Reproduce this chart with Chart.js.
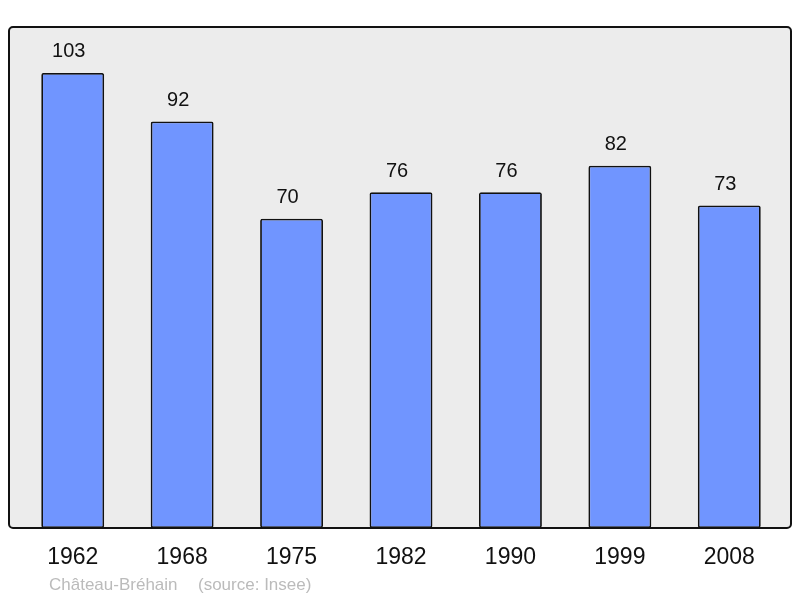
<!DOCTYPE html>
<html>
<head>
<meta charset="utf-8">
<script src="https://cdn.jsdelivr.net/npm/chart.js@4/dist/chart.umd.min.js"></script>
<style>
  html, body { margin: 0; padding: 0; background: #fff; }
  #wrap { width: 800px; height: 598px; position: relative; }
</style>
</head>
<body>
<div id="wrap"><canvas id="popChart"></canvas></div>
<script>
const years = ['1962', '1968', '1975', '1982', '1990', '1999', '2008'];
const population = [103, 92, 70, 76, 76, 82, 73];
const commune = 'Château-Bréhain';
const sourceText = '(source: Insee)';

// grey rounded box behind the bars, slightly wider than the category area
const frameBox = {
    id: 'frameBox',
    beforeDatasetsDraw(chart) {
        const { ctx, chartArea: a } = chart;
        const x0 = a.left - 9, x1 = a.right + 7;
        const y0 = a.top, y1 = a.bottom;
        ctx.save();
        ctx.beginPath();
        ctx.roundRect(x0, y0, x1 - x0, y1 - y0, 4);
        ctx.fillStyle = '#ececec';
        ctx.fill();
        ctx.lineWidth = 2;
        ctx.strokeStyle = '#111';
        ctx.stroke();
        ctx.restore();
    }
};

const valueLabels = {
    id: 'valueLabels',
    afterDatasetsDraw(chart) {
        const { ctx } = chart;
        const meta = chart.getDatasetMeta(0);
        ctx.save();
        ctx.font = '20px "Liberation Sans", Arial, sans-serif';
        ctx.fillStyle = '#111';
        ctx.textAlign = 'center';
        ctx.textBaseline = 'middle';
        meta.data.forEach((bar, i) => {
            ctx.fillText(String(population[i]), bar.x - 4, bar.y - 21);
        });
        // caption under the axis
        ctx.font = '17px "Liberation Sans", Arial, sans-serif';
        ctx.fillStyle = '#bbbbbb';
        ctx.textAlign = 'left';
        ctx.fillText(commune, 49, 585);
        ctx.fillText(sourceText, 198, 585);
        ctx.restore();
    }
};

new Chart(document.getElementById('popChart'), {
    type: 'bar',
    data: {
        labels: years,
        datasets: [{
            data: population,
            backgroundColor: '#7095ff',
            borderColor: '#111',
            borderWidth: 1.8,
            borderRadius: 2,
            borderSkipped: false,
            categoryPercentage: 1,
            barPercentage: 0.575
        }]
    },
    options: {
        responsive: true,
        maintainAspectRatio: false,
        animation: false,
        layout: { padding: { left: 18, right: 16, top: 27, bottom: 0 } },
        plugins: { legend: { display: false }, tooltip: { enabled: false } },
        scales: {
            x: {
                grid: { display: false, drawTicks: false },
                border: { display: false },
                ticks: {
                    color: '#111',
                    padding: 16,
                    font: { family: '"Liberation Sans", Arial, sans-serif', size: 23 }
                },
                afterFit(scale) { scale.height = 70; }
            },
            y: {
                display: false,
                min: 0,
                max: 113.4
            }
        }
    },
    plugins: [frameBox, valueLabels]
});
</script>
</body>
</html>
